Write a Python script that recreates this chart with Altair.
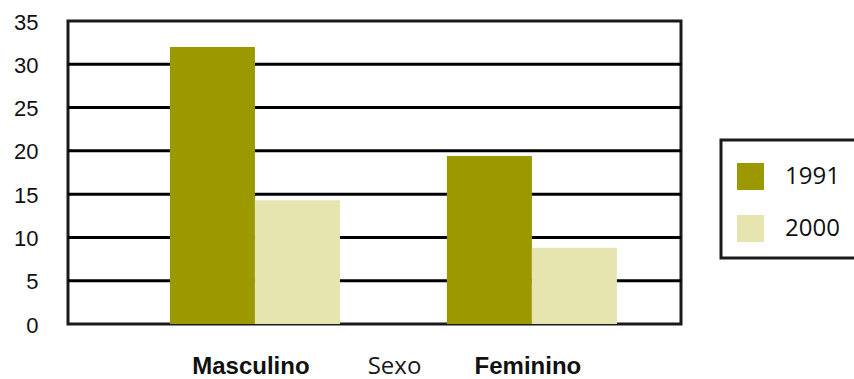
import altair as alt
import pandas as pd

sexo = ["Masculino", "Feminino"]
anos = ["1991", "2000"]
v1991 = [32.0, 19.4]
v2000 = [14.3, 8.8]
y_ticks = [0, 5, 10, 15, 20, 25, 30, 35]
grid_vals = [5, 10, 15, 20, 25, 30]
cores = ["#9C9900", "#E6E5AF"]

rows = []
for i, s in enumerate(sexo):
    rows.append({"Sexo": s, "Ano": anos[0], "Valor": v1991[i]})
    rows.append({"Sexo": s, "Ano": anos[1], "Valor": v2000[i]})
df = pd.DataFrame(rows)
grid_df = pd.DataFrame({"v": grid_vals})

yscale = alt.Scale(domain=[0, 35], nice=False, zero=True)

rules = alt.Chart(grid_df).mark_rule(color="black", strokeWidth=3).encode(
    y=alt.Y("v:Q", scale=yscale)
)

bars = alt.Chart(df).mark_bar().encode(
    x=alt.X(
        "Sexo:N",
        sort=sexo,
        scale=alt.Scale(paddingInner=0.386, paddingOuter=0.2996, align=0.614),
        axis=alt.Axis(
            title="Sexo",
            labelAngle=0,
            ticks=False,
            domain=False,
            labelFont="Liberation Sans",
            labelFontWeight="bold",
            labelFontSize=24,
            labelColor="#111111",
            labelBaseline="alphabetic",
            labelPadding=49,
            labelOffset=-4,
            titleFont="Open Sans",
            titleFontWeight="normal",
            titleFontSize=24,
            titleColor="#1a1a1a",
            titleBaseline="alphabetic",
            titleAlign="center",
            titleAnchor="start",
            titleX=326,
            titleY=49,
        ),
    ),
    xOffset=alt.XOffset("Ano:N", sort=anos, scale=alt.Scale(paddingInner=0, paddingOuter=0)),
    y=alt.Y(
        "Valor:Q",
        scale=yscale,
        axis=alt.Axis(
            title=None,
            values=y_ticks,
            grid=False,
            ticks=False,
            domain=False,
            labelFont="Liberation Sans",
            labelFontSize=22,
            labelColor="#111111",
            labelPadding=30,
            labelOffset=1,
        ),
    ),
    color=alt.Color(
        "Ano:N",
        sort=anos,
        scale=alt.Scale(domain=anos, range=cores),
        legend=alt.Legend(
            orient="none",
            legendX=653,
            legendY=119,
            title=" ",
            titleFontSize=6,
            titlePadding=1,
            padding=16,
            symbolType="square",
            symbolSize=729,
            symbolStrokeWidth=0,
            rowPadding=25,
            labelOffset=21,
            labelFont="Open Sans",
            labelFontSize=24,
            labelColor="#111111",
            strokeColor="#1a1a1a",
            fillColor="white",
        ),
    ),
)

chart = (
    alt.layer(rules, bars)
    .properties(
        width=613,
        height=303,
        autosize="none",
        padding={"left": 68, "top": 21, "right": 173, "bottom": 55},
        background="white",
    )
    .configure_view(stroke="#1a1a1a", strokeWidth=3)
    .configure_legend(strokeWidth=3)
)

chart.save("out.html", embed_options={"renderer": "svg", "actions": False})
